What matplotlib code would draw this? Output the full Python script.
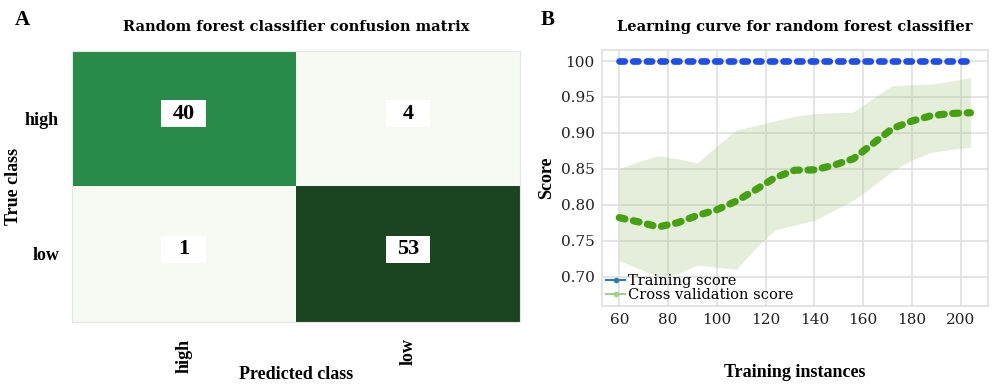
import numpy as np
import matplotlib
matplotlib.use('Agg')
import matplotlib.pyplot as plt
from matplotlib.lines import Line2D
from matplotlib.patches import Rectangle
from matplotlib.colors import LinearSegmentedColormap

# Confusion matrix data
class_names = ['high', 'low']
conf_matrix = [[40, 4],
               [1, 53]]

# Learning curve data
train_sizes = [60, 68, 76, 84, 92, 100, 108, 116, 124, 132, 140, 148, 156,
               164, 172, 180, 188, 196, 204]
train_score = [1.0] * 19
cv_mean = [0.782, 0.776, 0.769, 0.775, 0.785, 0.793, 0.805, 0.821, 0.838,
           0.848, 0.8485, 0.855, 0.864, 0.885, 0.906, 0.9165, 0.924, 0.927,
           0.928]
cv_upper = [0.850, 0.860, 0.868, 0.864, 0.858, 0.882, 0.904, 0.910, 0.917,
            0.923, 0.927, 0.928, 0.929, 0.948, 0.966, 0.967, 0.968, 0.972,
            0.977]
cv_lower = [0.722, 0.711, 0.700, 0.704, 0.716, 0.713, 0.710, 0.740, 0.765,
            0.772, 0.778, 0.792, 0.806, 0.826, 0.847, 0.862, 0.873, 0.877,
            0.880]
y_ticks = [0.70, 0.75, 0.80, 0.85, 0.90, 0.95, 1.00]
y_tick_labels = ['0.70', '0.75', '0.80', '0.85', '0.90', '0.95', '100']
x_ticks = [60, 80, 100, 120, 140, 160, 180, 200]

SERIF_B = 'Liberation Serif'
SERIF = 'DejaVu Serif'

fig = plt.figure(figsize=(10, 3.92), dpi=100)

'''
Panel A: confusion matrix
'''
ax1 = fig.add_axes([0.0717, 0.1793, 0.4483, 0.6913])
cm = np.array(conf_matrix)
greens = LinearSegmentedColormap.from_list(
    'greens', [(0.0, '#f6faf3'), (0.75, '#268a47'), (1.0, '#1a4520')])
ax1.imshow(cm, cmap=greens, vmin=4, vmax=53, aspect='auto')
for i in range(cm.shape[0]):
    for j in range(cm.shape[1]):
        ax1.add_patch(Rectangle((j - 0.1, i - 0.135), 0.2, 0.2,
                                facecolor='white', edgecolor='none', zorder=3))
        ax1.text(j, i - 0.035, str(cm[i, j]), ha='center', va='center',
                 fontsize=16, fontweight='bold', family=SERIF_B, zorder=4)

ax1.set_xticks(range(len(class_names)))
ax1.set_yticks(range(len(class_names)))
ax1.set_xticklabels(class_names, rotation=90, fontsize=13, fontweight='bold',
                    family=SERIF_B)
ax1.set_yticklabels(class_names, fontsize=13, fontweight='bold',
                    family=SERIF_B)
ax1.tick_params(axis='y', length=0, pad=9)
ax1.tick_params(axis='x', length=0, pad=12)
for s in ax1.spines.values():
    s.set_color('#e6e6e6')
ax1.set_xlabel('Predicted class', fontsize=13, fontweight='bold',
               family=SERIF_B, labelpad=-5)
ax1.set_ylabel('True class', fontsize=13, fontweight='bold', family=SERIF_B,
               labelpad=2)
ax1.set_title('Random forest classifier confusion matrix', fontsize=10.5,
              fontweight='bold', family=SERIF, pad=14)
fig.text(0.015, 0.95, 'A', fontsize=15, fontweight='bold', family=SERIF_B,
         va='center')

'''
Panel B: learning curve
'''
ax2 = fig.add_axes([0.6017, 0.2194, 0.3863, 0.6531])
ax2.fill_between(train_sizes, cv_lower, cv_upper, color='#a6c888',
                 alpha=0.3, linewidth=0, zorder=2)
ax2.plot(train_sizes, train_score, color='#1f4fe6', linewidth=4.8,
         dashes=(0.8, 1.25), dash_capstyle='round', zorder=3)
ax2.plot(train_sizes, cv_mean, color='#45a012', linewidth=5.2,
         dashes=(0.8, 1.2), dash_capstyle='round', zorder=3)

ax2.set_xlim(52.8, 211.2)
ax2.set_ylim(0.659, 1.0154)
ax2.set_xticks(x_ticks)
ax2.set_yticks(y_ticks)
ax2.set_yticklabels(y_tick_labels)
ax2.tick_params(length=0, labelsize=11, colors='#222222', pad=5)
for lbl in ax2.get_xticklabels() + ax2.get_yticklabels():
    lbl.set_family(SERIF)
ax2.grid(True, color='#e2e2e2', linewidth=1.3, zorder=0)
ax2.set_axisbelow(True)
for s in ax2.spines.values():
    s.set_color('#e2e2e2')
    s.set_linewidth(1.3)

handles = [Line2D([], [], color='#2b7bba', marker='o', markersize=3,
                  linewidth=1.5),
           Line2D([], [], color='#9fd08a', marker='o', markersize=3,
                  linewidth=1.5)]
ax2.legend(handles, ['Training score', 'Cross validation score'],
           loc='lower left', frameon=False,
           prop={'family': SERIF, 'size': 10.5},
           handlelength=1.3, handletextpad=0.2, labelspacing=0.0,
           borderaxespad=0.1, borderpad=0.2)

ax2.set_xlabel('Training instances', fontsize=13, fontweight='bold',
               family=SERIF_B, labelpad=27)
ax2.set_ylabel('Score', fontsize=13, fontweight='bold', family=SERIF_B,
               labelpad=4)
ax2.set_title('Learning curve for random forest classifier', fontsize=10.5,
              fontweight='bold', family=SERIF, pad=14)
fig.text(0.541, 0.95, 'B', fontsize=15, fontweight='bold', family=SERIF_B,
         va='center')

fig.savefig('out.png', dpi=100)
